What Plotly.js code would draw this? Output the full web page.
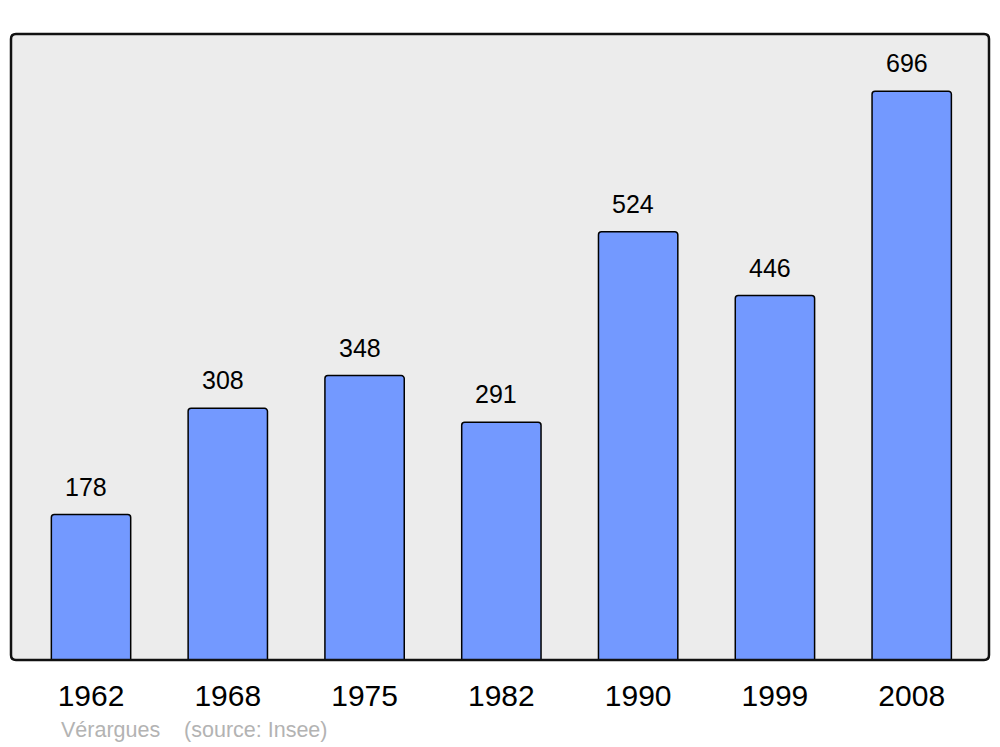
<!DOCTYPE html>
<html><head><meta charset="utf-8">
<script src="https://cdn.plot.ly/plotly-3.0.1.min.js"></script>
<style>html,body{margin:0;padding:0;background:#fff}#chart{width:1000px;height:747px}</style>
</head><body><div id="chart"></div>
<script>
var years = ["1962","1968","1975","1982","1990","1999","2008"];
var population = [178, 308, 348, 291, 524, 446, 696];
var sourceText = "Vérargues\u00a0\u00a0\u00a0\u00a0(source: Insee)";

var positions = years.map(function (_, i) { return i; });
var FONT = "Liberation Sans, Arial, sans-serif";

var W = 978, H = 626, r = 5;
var rx = r / W, ry = r / H;
var framePath = "M " + rx + " 1 L " + (1 - rx) + " 1 Q 1 1 1 " + (1 - ry) +
  " L 1 " + ry + " Q 1 0 " + (1 - rx) + " 0 L " + rx + " 0 Q 0 0 0 " + ry +
  " L 0 " + (1 - ry) + " Q 0 1 " + rx + " 1 Z";

var trace = {
  type: "bar", x: positions, y: population,
  width: 0.58,
  marker: {color: "#7399ff", line: {color: "#000", width: 1.5}, cornerradius: 3},
  hoverinfo: "none"
};

var annotations = positions.map(function (p, i) {
  return {xref: "x", yref: "y", x: p, y: population[i], text: String(population[i]), showarrow: false,
    xanchor: "center", yanchor: "bottom", yshift: 12, xshift: -5,
    font: {family: FONT, size: 25, color: "#000"}};
});
annotations.push({xref: "paper", yref: "paper", x: 48 / W, y: -70 / H, text: sourceText,
  showarrow: false, xanchor: "left", yanchor: "middle",
  font: {family: FONT, size: 21.5, color: "#b3b3b3"}});

var layout = {
  width: 1000, height: 747,
  margin: {l: 11, r: 11, t: 34, b: 87, pad: 0},
  paper_bgcolor: "#fff", plot_bgcolor: "#ececec",
  showlegend: false,
  xaxis: {type: "linear", range: [-0.585, 6.565], showgrid: false, zeroline: false,
    showline: false, tickmode: "array", tickvals: positions, ticktext: years,
    ticks: "outside", ticklen: 9, tickcolor: "rgba(0,0,0,0)",
    tickfont: {family: FONT, size: 30, color: "#000"}, fixedrange: true},
  yaxis: {range: [0, 766], showgrid: false, zeroline: false, showline: false,
    showticklabels: false, ticks: "", fixedrange: true},
  shapes: [{type: "path", xref: "paper", yref: "paper", path: framePath,
    line: {color: "#111", width: 2.5}, fillcolor: "rgba(0,0,0,0)", layer: "above"}],
  annotations: annotations
};

Plotly.newPlot("chart", [trace], layout, {displayModeBar: false, staticPlot: true});
</script></body></html>
